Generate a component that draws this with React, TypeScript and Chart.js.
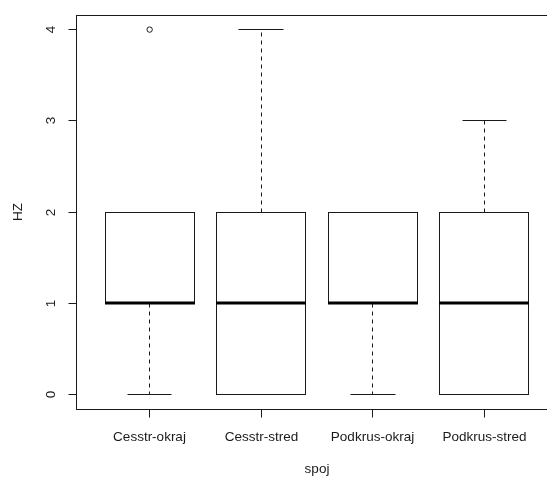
import React, { useEffect, useRef } from "react";
import { Chart, registerables } from "chart.js";

Chart.register(...registerables);

const categories = ["Cesstr-okraj", "Cesstr-stred", "Podkrus-okraj", "Podkrus-stred"];
const whiskerLow = [0, 0, 0, 0];
const q1 = [1, 0, 1, 0];
const median = [1, 1, 1, 1];
const q3 = [2, 2, 2, 2];
const whiskerHigh = [2, 4, 2, 3];
const outliers = [[4], [], [], []];
const yTicks = [0, 1, 2, 3, 4];
const yTickLabels = ["0", "1", "2", "3", "4"];
const xTitle = "spoj";
const yTitle = "HZ";

const FONT = '13.5px "Liberation Sans", Arial, sans-serif';
const INK = "#1a1a1a";

const boxPlugin = {
  id: "rbox",
  beforeDatasetsDraw(chart: any) {
    const ctx = chart.ctx;
    const xs = chart.scales.x;
    const ys = chart.scales.y;
    const snap = (v: number) => Math.floor(v) + 0.5;
    ctx.save();
    categories.forEach((_, i) => {
      const pos = i + 1;
      const cx = xs.getPixelForValue(pos);
      const bl = snap(xs.getPixelForValue(pos - 0.4));
      const br = snap(xs.getPixelForValue(pos + 0.4));
      const sl = snap(xs.getPixelForValue(pos - 0.2));
      const sr = snap(xs.getPixelForValue(pos + 0.2));
      const xc = snap(cx);
      const yq1 = snap(ys.getPixelForValue(q1[i]));
      const yq3 = snap(ys.getPixelForValue(q3[i]));
      const ylo = snap(ys.getPixelForValue(whiskerLow[i]));
      const yhi = snap(ys.getPixelForValue(whiskerHigh[i]));
      const ymed = ys.getPixelForValue(median[i]);
      ctx.strokeStyle = INK;
      ctx.lineWidth = 1;
      ctx.setLineDash([4, 4]);
      if (whiskerLow[i] < q1[i]) {
        ctx.beginPath();
        ctx.moveTo(xc, yq1);
        ctx.lineTo(xc, ylo);
        ctx.stroke();
      }
      if (whiskerHigh[i] > q3[i]) {
        ctx.beginPath();
        ctx.moveTo(xc, yq3);
        ctx.lineTo(xc, yhi);
        ctx.stroke();
      }
      ctx.setLineDash([]);
      ctx.beginPath();
      ctx.moveTo(sl, ylo);
      ctx.lineTo(sr, ylo);
      ctx.moveTo(sl, yhi);
      ctx.lineTo(sr, yhi);
      ctx.stroke();
      ctx.fillStyle = "#fff";
      ctx.fillRect(bl, yq3, br - bl, yq1 - yq3);
      ctx.strokeRect(bl, yq3, br - bl, yq1 - yq3);
      ctx.strokeStyle = "#000";
      ctx.lineWidth = 3;
      ctx.beginPath();
      ctx.moveTo(bl - 0.5, Math.round(ymed));
      ctx.lineTo(br + 0.5, Math.round(ymed));
      ctx.stroke();
    });
    ctx.restore();
  },
  afterDraw(chart: any) {
    const ctx = chart.ctx;
    const xs = chart.scales.x;
    const ys = chart.scales.y;
    const a = chart.chartArea;
    const snap = (v: number) => Math.floor(v) + 0.5;
    ctx.save();
    ctx.strokeStyle = INK;
    ctx.lineWidth = 1;
    ctx.setLineDash([]);
    const L = snap(a.left), R = snap(a.right), T = snap(a.top), B = snap(a.bottom);
    ctx.strokeRect(L, T, R - L, B - T);
    ctx.fillStyle = INK;
    ctx.font = FONT;
    yTicks.forEach((v, k) => {
      const y = snap(ys.getPixelForValue(v));
      ctx.beginPath();
      ctx.moveTo(L, y);
      ctx.lineTo(L - 8, y);
      ctx.stroke();
      ctx.save();
      ctx.translate(55, y);
      ctx.rotate(-Math.PI / 2);
      ctx.textAlign = "center";
      ctx.textBaseline = "alphabetic";
      ctx.fillText(yTickLabels[k], 0, 0);
      ctx.restore();
    });
    categories.forEach((c, i) => {
      const x = snap(xs.getPixelForValue(i + 1));
      ctx.beginPath();
      ctx.moveTo(x, B);
      ctx.lineTo(x, B + 8);
      ctx.stroke();
      ctx.textAlign = "center";
      ctx.textBaseline = "alphabetic";
      ctx.fillText(c, x, 441);
    });
    ctx.textAlign = "center";
    ctx.textBaseline = "alphabetic";
    ctx.fillText(xTitle, (a.left + a.right) / 2, 473);
    ctx.save();
    ctx.translate(22, (a.top + a.bottom) / 2);
    ctx.rotate(-Math.PI / 2);
    ctx.fillText(yTitle, 0, 0);
    ctx.restore();
    ctx.restore();
  },
};

export default function App() {
  const ref = useRef<HTMLCanvasElement>(null);
  useEffect(() => {
    if (!ref.current) return;
    const pts: { x: number; y: number }[] = [];
    outliers.forEach((arr, i) => arr.forEach((v) => pts.push({ x: i + 1, y: v })));
    const chart = new Chart(ref.current, {
      type: "scatter",
      data: {
        datasets: [
          {
            data: pts,
            pointRadius: 2.7,
            pointBorderWidth: 1,
            pointBorderColor: INK,
            pointBackgroundColor: "rgba(0,0,0,0)",
          },
        ],
      },
      options: {
        responsive: false,
        animation: false,
        devicePixelRatio: 1,
        layout: { padding: { left: 76, top: 15, right: 600 - 558, bottom: 477 - 409 } },
        plugins: { legend: { display: false }, tooltip: { enabled: false } },
        scales: {
          x: { type: "linear", min: 0.34, max: 4.66, display: false },
          y: { type: "linear", min: -0.16, max: 4.16, display: false },
        },
      },
      plugins: [boxPlugin],
    });
    return () => chart.destroy();
  }, []);
  return (
    <div
      style={{
        position: "fixed",
        left: 0,
        top: 0,
        width: 547,
        height: 477,
        overflow: "hidden",
        background: "#fff",
      }}
    >
      <canvas ref={ref} width={600} height={477} style={{ display: "block" }} />
    </div>
  );
}
